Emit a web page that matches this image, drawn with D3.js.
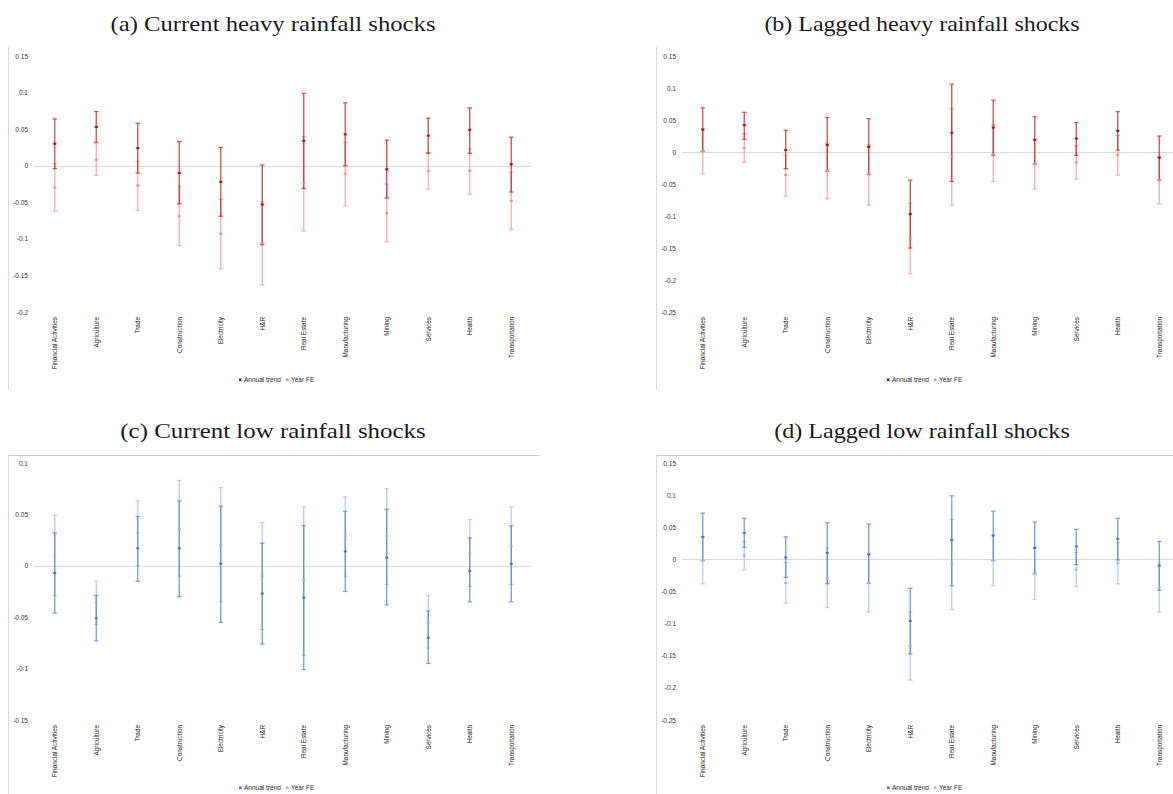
<!DOCTYPE html>
<html>
<head>
<meta charset="utf-8">
<script src="https://cdn.jsdelivr.net/npm/d3@7"></script>
<style>
  body { margin: 0; background: #fff; }
  svg { display: block; }
</style>
</head>
<body>
<div id="chart"></div>
<script>
// sectors on the category axis
const categories = ["Financial Activities", "Agriculture", "Trade", "Construction", "Electricity", "H&R",
    "Real Estate", "Manufacturing", "Mining", "Services", "Health", "Transportation"];

// each entry: [estimate, lower bound, upper bound]
const heavyCurTrend = [[0.030, -0.004, 0.064], [0.053, 0.032, 0.074], [0.024, -0.010, 0.058], [-0.010, -0.052, 0.033],
    [-0.022, -0.069, 0.025], [-0.053, -0.108, 0.001], [0.034, -0.031, 0.099], [0.043, 0.000, 0.086],
    [-0.005, -0.044, 0.035], [0.041, 0.017, 0.065], [0.049, 0.017, 0.079], [0.002, -0.036, 0.039]];
const heavyCurFE = [[-0.030, -0.062, 0.003], [0.008, -0.013, 0.030], [-0.027, -0.061, 0.006], [-0.069, -0.109, -0.028],
    [-0.093, -0.141, -0.046], [-0.106, -0.163, -0.049], [-0.024, -0.089, 0.040], [-0.011, -0.055, 0.032],
    [-0.065, -0.104, -0.025], [-0.007, -0.032, 0.018], [-0.007, -0.039, 0.023], [-0.048, -0.087, -0.009]];

const heavyLagTrend = [[0.035, 0.001, 0.069], [0.042, 0.020, 0.062], [0.003, -0.026, 0.034], [0.011, -0.030, 0.054],
    [0.008, -0.035, 0.052], [-0.097, -0.150, -0.044], [0.030, -0.046, 0.106], [0.038, -0.005, 0.081],
    [0.019, -0.019, 0.055], [0.021, -0.005, 0.046], [0.033, 0.003, 0.063], [-0.009, -0.044, 0.025]];
const heavyLagFE = [[0.001, -0.034, 0.036], [0.006, -0.016, 0.029], [-0.036, -0.069, -0.005], [-0.029, -0.073, 0.014],
    [-0.035, -0.083, 0.011], [-0.135, -0.190, -0.080], [-0.007, -0.083, 0.068], [-0.003, -0.046, 0.042],
    [-0.019, -0.058, 0.020], [-0.016, -0.042, 0.010], [-0.005, -0.036, 0.026], [-0.044, -0.081, -0.007]];

const lowCurTrend = [[-0.007, -0.046, 0.032], [-0.051, -0.073, -0.029], [0.017, -0.015, 0.048], [0.017, -0.030, 0.063],
    [0.002, -0.055, 0.058], [-0.027, -0.076, 0.022], [-0.031, -0.101, 0.039], [0.014, -0.025, 0.053],
    [0.008, -0.038, 0.055], [-0.070, -0.095, -0.044], [-0.005, -0.035, 0.027], [0.002, -0.035, 0.039]];
const lowCurFE = [[0.010, -0.029, 0.049], [-0.036, -0.057, -0.015], [0.032, 0.000, 0.063], [0.036, -0.010, 0.083],
    [0.020, -0.035, 0.076], [-0.010, -0.062, 0.042], [-0.014, -0.087, 0.057], [0.029, -0.010, 0.067],
    [0.029, -0.018, 0.075], [-0.055, -0.080, -0.029], [0.012, -0.020, 0.045], [0.019, -0.018, 0.057]];

const lowLagTrend = [[0.035, -0.002, 0.072], [0.041, 0.019, 0.064], [0.003, -0.028, 0.035], [0.010, -0.038, 0.057],
    [0.008, -0.037, 0.055], [-0.096, -0.147, -0.045], [0.030, -0.041, 0.099], [0.037, -0.002, 0.075],
    [0.018, -0.022, 0.058], [0.020, -0.008, 0.047], [0.032, -0.001, 0.064], [-0.010, -0.048, 0.028]];
const lowLagFE = [[-0.002, -0.038, 0.035], [0.006, -0.016, 0.028], [-0.037, -0.068, -0.005], [-0.029, -0.075, 0.018],
    [-0.037, -0.082, 0.008], [-0.135, -0.188, -0.082], [-0.008, -0.078, 0.062], [-0.002, -0.041, 0.037],
    [-0.022, -0.062, 0.018], [-0.016, -0.042, 0.011], [-0.006, -0.038, 0.026], [-0.044, -0.082, -0.007]];

// y tick labels
const ticksHeavyCur = [0.15, 0.1, 0.05, 0, -0.05, -0.1, -0.15, -0.2];
const ticksLag = [0.15, 0.1, 0.05, 0, -0.05, -0.1, -0.15, -0.2, -0.25];
const ticksLowCur = [0.1, 0.05, 0, -0.05, -0.1, -0.15];

const seriesNames = ["Annual trend", "Year FE"];

const W = 1173, H = 794;
const svg = d3.select("#chart").append("svg")
    .attr("width", W)
    .attr("height", H)
    .style("font-family", "'Liberation Sans', Arial, sans-serif");

const reds = { dark: "#C00000", light: "#EE8A8A" };
const blues = { dark: "#4472C4", light: "#9DB6E4" };

const panels = [
    { title: "(a) Current heavy rainfall shocks", trend: heavyCurTrend, fe: heavyCurFE, ticks: ticksHeavyCur,
      left: 0, top: 0, yDomain: [-0.2, 0.15], colors: reds, frameTop: false },
    { title: "(b) Lagged heavy rainfall shocks", trend: heavyLagTrend, fe: heavyLagFE, ticks: ticksLag,
      left: 648, top: 0, yDomain: [-0.25, 0.15], colors: reds, frameTop: false },
    { title: "(c) Current low rainfall shocks", trend: lowCurTrend, fe: lowCurFE, ticks: ticksLowCur,
      left: 0, top: 407, yDomain: [-0.15, 0.1], colors: blues, frameTop: true },
    { title: "(d) Lagged low rainfall shocks", trend: lowLagTrend, fe: lowLagFE, ticks: ticksLag,
      left: 648, top: 407, yDomain: [-0.25, 0.15], colors: blues, frameTop: true }
];

panels.forEach(drawPanel);

function drawPanel(p) {
    const g = svg.append("g").attr("transform", `translate(${p.left},${p.top})`);

    // title
    g.append("text")
        .attr("x", p.left === 0 ? 273 : 274)
        .attr("y", 31)
        .attr("text-anchor", "middle")
        .style("font-family", "'Liberation Serif', 'Times New Roman', serif")
        .style("font-size", "21.5px")
        .attr("fill", "#1a1a1a")
        .attr("textLength", p.title.length * 9.85)
        .attr("lengthAdjust", "spacingAndGlyphs")
        .text(p.title);

    // chart area border
    const frameTop = p.frameTop ? 48 : 47;
    g.append("line")
        .attr("x1", 8.5).attr("x2", 8.5)
        .attr("y1", frameTop).attr("y2", p.frameTop ? 400 : 390)
        .attr("stroke", "#D9D9D9");
    if (p.frameTop) {
        g.append("line")
            .attr("x1", 8.5).attr("x2", 540)
            .attr("y1", 48.5).attr("y2", 48.5)
            .attr("stroke", "#C9C9C9");
    }

    const x = d3.scaleBand().domain(categories).range([34, 532]);
    const y = d3.scaleLinear().domain(p.yDomain).range([p.top === 0 ? 312 : 313, 56]);

    // y axis labels
    const yAxis = g.append("g")
        .attr("transform", "translate(28,0)")
        .call(d3.axisLeft(y).tickValues(p.ticks).tickSize(0).tickPadding(0).tickFormat(d => String(d)));
    yAxis.select(".domain").remove();
    yAxis.selectAll("text")
        .attr("fill", "#333")
        .style("font-size", "6.5px")
        .style("font-family", "'Liberation Sans', Arial, sans-serif");

    // zero line
    g.append("line")
        .attr("x1", x.range()[0]).attr("x2", x.range()[1])
        .attr("y1", Math.round(y(0)) + 0.5).attr("y2", Math.round(y(0)) + 0.5)
        .attr("stroke", "#D9D9D9");

    // category labels
    const xAxis = g.append("g")
        .attr("transform", `translate(0,${y.range()[0] + 5})`)
        .call(d3.axisBottom(x).tickSize(0).tickPadding(0));
    xAxis.select(".domain").remove();
    xAxis.selectAll("text")
        .attr("y", 0)
        .attr("x", 0)
        .attr("dy", "0.35em")
        .attr("transform", "rotate(-90)")
        .style("text-anchor", "end")
        .style("font-size", "6.4px")
        .style("font-family", "'Liberation Sans', Arial, sans-serif")
        .attr("fill", "#222");

    const cx = c => x(c) + x.bandwidth() / 2;

    // error bars: Year FE below, Annual trend on top
    const series = [
        { data: p.fe, color: p.colors.light, opacity: 0.7 },
        { data: p.trend, color: p.colors.dark, opacity: 0.7 }
    ];

    series.forEach(s => {
        const rows = categories.map((c, i) => ({ c, est: s.data[i][0], lo: s.data[i][1], hi: s.data[i][2] }));
        const sg = g.append("g").attr("opacity", s.opacity);

        sg.selectAll(".bar").data(rows).enter().append("line")
            .attr("x1", d => cx(d.c)).attr("x2", d => cx(d.c))
            .attr("y1", d => y(d.lo)).attr("y2", d => y(d.hi))
            .attr("stroke", s.color)
            .attr("stroke-width", 1.3);

        ["lo", "hi"].forEach(k => {
            sg.selectAll(".cap-" + k).data(rows).enter().append("line")
                .attr("x1", d => cx(d.c) - 2.2).attr("x2", d => cx(d.c) + 2.2)
                .attr("y1", d => y(d[k])).attr("y2", d => y(d[k]))
                .attr("stroke", s.color)
                .attr("stroke-width", 1.2);
        });
    });

    // markers
    series.forEach(s => {
        g.selectAll(null).data(categories).enter().append("rect")
            .attr("x", c => cx(c) - 1.5)
            .attr("y", (c, i) => y(s.data[i][0]) - 1)
            .attr("width", 3)
            .attr("height", 2)
            .attr("fill", s.color);
    });

    // legend
    const legend = g.append("g").attr("transform", `translate(239,${y.range()[0] + 68})`);
    const items = [
        { name: seriesNames[0], color: p.colors.dark, x: 0 },
        { name: seriesNames[1], color: p.colors.light, x: 47 }
    ];
    items.forEach(it => {
        legend.append("rect")
            .attr("x", it.x).attr("y", -1.5)
            .attr("width", 2.5).attr("height", 2.5)
            .attr("fill", it.color);
        legend.append("text")
            .attr("x", it.x + 5)
            .attr("y", 0)
            .attr("dy", "0.35em")
            .style("font-size", "6.5px")
            .attr("fill", "#262626")
            .text(it.name);
    });
}
</script>
</body>
</html>
